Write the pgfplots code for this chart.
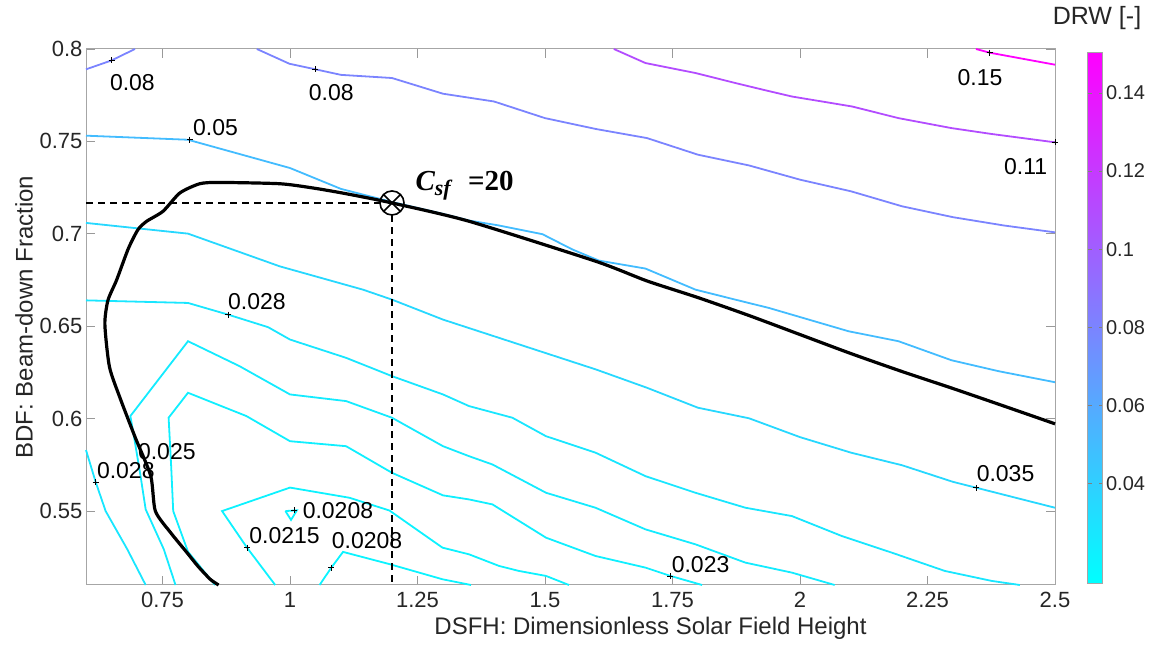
\documentclass[border=0pt]{standalone}
\usepackage{pgfplots}
\pgfplotsset{compat=1.18}
\usepackage{fontspec}
\setmainfont{Liberation Sans}
\newfontfamily\serifbf{Liberation Serif}
\usetikzlibrary{plotmarks}

\definecolor{cA}{rgb}{0.046,0.954,1}   % 0.0208
\definecolor{cB}{rgb}{0.051,0.949,1}   % 0.0215
\definecolor{cC}{rgb}{0.063,0.938,1}   % 0.023
\definecolor{cD}{rgb}{0.077,0.923,1}   % 0.025
\definecolor{cE}{rgb}{0.099,0.901,1}   % 0.028
\definecolor{cF}{rgb}{0.151,0.849,1}   % 0.035
\definecolor{cG}{rgb}{0.261,0.739,1}   % 0.05
\definecolor{cH}{rgb}{0.482,0.518,1}   % 0.08
\definecolor{cI}{rgb}{0.702,0.298,1}   % 0.11
\definecolor{cJ}{rgb}{0.996,0.004,1}   % 0.15

\begin{document}
\begin{tikzpicture}
\path[use as bounding box] (0,0) rectangle (1150pt,652pt);
\begin{axis}[
  at={(86pt,67pt)}, anchor=south west,
  scale only axis, width=969pt, height=536pt,
  xmin=0.6, xmax=2.5, ymin=0.51, ymax=0.8,
  xtick={0.75,1,1.25,1.5,1.75,2,2.25,2.5},
  xticklabels={0.75,1,1.25,1.5,1.75,2,2.25,2.5},
  ytick={0.55,0.6,0.65,0.7,0.75,0.8},
  yticklabels={0.55,0.6,0.65,0.7,0.75,0.8},
  tick align=inside, major tick length=9pt,
  tick style={black!40, line width=0.8pt},
  axis line style={black!35, line width=1pt},
  ticklabel style={font=\fontsize{22}{26}\selectfont, text=black!85},
  xticklabel style={yshift=-4pt},
  xlabel={DSFH: Dimensionless Solar Field Height},
  ylabel={BDF: Beam-down Fraction},
  label style={font=\fontsize{24}{28}\selectfont, text=black!85},
  xlabel style={yshift=-2pt, xshift=80pt},
  clip=false,
  colormap={cool}{rgb=(0,1,1) rgb=(1,0,1)},
  point meta min=0.0145, point meta max=0.1505,
  colorbar,
  colorbar style={
    at={(parent axis.north east)}, anchor=north west, xshift=24pt, yshift=-3pt,
    scale only axis, width=15pt, height=531pt,
    ytick={0.04,0.06,0.08,0.1,0.12,0.14},
    yticklabels={0.04,0.06,0.08,0.1,0.12,0.14},
    yticklabel style={font=\fontsize{20}{24}\selectfont, text=black!85},
    axis line style={black!35, line width=0.8pt},
    tick style={black!50}, major tick length=4pt,
  },
]
% 0.15
\addplot[cJ, line width=1.8pt] coordinates {(2.345,0.8)(2.372,0.798)(2.5,0.7915)};
% 0.11
\addplot[cI, line width=1.8pt] coordinates {(1.635,0.8)(1.697,0.7924)(1.795,0.787)(1.873,0.7816)(1.93,0.7778)(1.984,0.7743)(2.102,0.7689)(2.193,0.7626)(2.297,0.7572)(2.376,0.754)(2.5,0.7495)};
% 0.08 (corner and main)
\addplot[cH, line width=1.8pt] coordinates {(0.6,0.789)(0.65,0.7938)(0.696,0.8)};
\addplot[cH, line width=1.8pt] coordinates {(0.935,0.8)(0.999,0.792)(1.05,0.789)(1.1,0.786)(1.2,0.7843)(1.3,0.7758)(1.4,0.7716)(1.5,0.7626)(1.6,0.7567)(1.7,0.7518)(1.8,0.7428)(1.9,0.737)(2.0,0.7293)(2.1,0.723)(2.2,0.7149)(2.3,0.709)(2.4,0.7045)(2.5,0.7008)};
% 0.05
\addplot[cG, line width=1.8pt] coordinates {(0.6,0.7531)(0.8,0.7509)(1.0,0.7356)(1.1,0.7243)(1.2,0.7172)(1.3,0.7108)(1.351,0.7072)(1.41,0.7045)(1.495,0.6998)(1.554,0.6915)(1.606,0.6855)(1.697,0.6812)(1.795,0.6698)(1.873,0.6644)(1.939,0.6599)(2.017,0.6536)(2.095,0.6473)(2.193,0.6419)(2.297,0.6316)(2.389,0.6257)(2.5,0.6197)};
% 0.035
\addplot[cF, line width=1.8pt] coordinates {(0.6,0.7059)(0.8,0.7001)(0.98,0.6824)(1.143,0.6698)(1.2,0.6644)(1.3,0.6536)(1.4,0.6446)(1.5,0.6356)(1.6,0.6266)(1.7,0.6167)(1.8,0.6059)(1.9,0.6002)(2.0,0.59)(2.1,0.5816)(2.2,0.5748)(2.3,0.5658)(2.346,0.5626)(2.5,0.5518)};
% 0.028 upper
\addplot[cE, line width=1.8pt] coordinates {(0.6,0.664)(0.8,0.6626)(0.8785,0.6563)(0.957,0.6495)(1.0,0.6428)(1.11,0.6329)(1.2,0.623)(1.3,0.6131)(1.351,0.6068)(1.436,0.6005)(1.502,0.5905)(1.599,0.5816)(1.697,0.5689)(1.795,0.5599)(1.893,0.5518)(1.984,0.5473)(2.082,0.5365)(2.18,0.5275)(2.284,0.5176)(2.376,0.5122)(2.431,0.51)};
% 0.028 lower left
\addplot[cE, line width=1.8pt] coordinates {(0.6,0.583)(0.619,0.5657)(0.6385,0.55)(0.681,0.5293)(0.717,0.51)};
% 0.025
\addplot[cD, line width=1.8pt] coordinates {(0.7755,0.51)(0.7526,0.5293)(0.717,0.5509)(0.707,0.5689)(0.694,0.5905)(0.687,0.6014)(0.8,0.6419)(0.901,0.6284)(1.0,0.6131)(1.11,0.6095)(1.2,0.6005)(1.3,0.5851)(1.351,0.5797)(1.397,0.5752)(1.502,0.5599)(1.599,0.5518)(1.697,0.5401)(1.795,0.532)(1.893,0.5221)(1.984,0.5167)(2.068,0.51)};
% 0.023
\addplot[cC, line width=1.8pt] coordinates {(0.853,0.51)(0.80,0.528)(0.771,0.55)(0.767,0.5743)(0.762,0.6005)(0.8,0.614)(0.9145,0.6014)(1.0,0.5878)(1.11,0.5851)(1.2,0.5707)(1.3,0.5585)(1.351,0.5563)(1.397,0.5536)(1.502,0.5356)(1.599,0.5257)(1.697,0.5194)(1.746,0.5149)(1.808,0.51)};
% 0.0215
\addplot[cB, line width=1.8pt] coordinates {(0.971,0.51)(0.9157,0.5302)(0.8668,0.55)(1.0,0.5627)(1.1166,0.5572)(1.195,0.5503)(1.299,0.5302)(1.351,0.5266)(1.41,0.5203)(1.449,0.5176)(1.502,0.5149)(1.547,0.51)};
% 0.0208
\addplot[cA, line width=1.8pt] coordinates {(0.991,0.55)(1.0135,0.5504)(1.002,0.5452)(0.991,0.55)};
\addplot[cA, line width=1.8pt] coordinates {(1.058,0.51)(1.081,0.5194)(1.104,0.5279)(1.195,0.5213)(1.299,0.5131)(1.355,0.51)};
% label markers
\addplot[only marks, mark=+, mark size=3pt, black, mark options={line width=0.6pt}] coordinates {(0.65,0.7938)(1.0495,0.7891)(0.8035,0.7509)(2.372,0.798)(2.5,0.7495)(0.8785,0.6563)(0.619,0.5657)(1.008,0.5504)(0.9157,0.5302)(1.081,0.5194)(1.746,0.5149)(2.346,0.5626)};
% Csf = 20 curve
\addplot[black, line width=3.2pt, smooth, tension=0.4] coordinates {(0.86,0.51)(0.844,0.513)(0.82,0.52)(0.798,0.5275)(0.766,0.5383)(0.736,0.55)(0.727,0.569)(0.697,0.5895)(0.667,0.611)(0.646,0.628)(0.637,0.651)(0.643,0.664)(0.66,0.675)(0.683,0.692)(0.702,0.7023)(0.719,0.7068)(0.751,0.7122)(0.784,0.7221)(0.823,0.7271)(0.862,0.7278)(0.98,0.7271)(1.045,0.7248)(1.11,0.7217)(1.2,0.7167)(1.351,0.7068)(1.6,0.6851)(1.7,0.6745)(1.8,0.6655)(1.9,0.6558)(2.0,0.6455)(2.1,0.6352)(2.2,0.6255)(2.3,0.6163)(2.4,0.6068)(2.5,0.5972)};
% dashed guides
\addplot[black, line width=1.6pt, dash pattern=on 7pt off 5pt] coordinates {(0.6,0.7167)(1.176,0.7167)};
\addplot[black, line width=1.6pt, dash pattern=on 7pt off 5pt] coordinates {(1.2,0.7100)(1.2,0.51)};
\addplot[only marks, black, mark=otimes, mark size=12pt, mark options={line width=1.6pt, fill=white}] coordinates {(1.2,0.7167)};
% labels
\begin{scope}[every node/.style={font=\fontsize{23}{27}\selectfont, text=black, inner sep=0pt}]
\node at (axis cs:0.691,0.7816) {0.08};
\node at (axis cs:1.081,0.7766) {0.08};
\node at (axis cs:0.854,0.7574) {0.05};
\node at (axis cs:2.353,0.7847) {0.15};
\node at (axis cs:2.4425,0.7365) {0.11};
\node at (axis cs:0.935,0.6631) {0.028};
\node at (axis cs:0.678,0.572) {0.028};
\node at (axis cs:0.7585,0.5823) {0.025};
\node at (axis cs:1.094,0.5505) {0.0208};
\node at (axis cs:0.9894,0.5369) {0.0215};
\node at (axis cs:1.151,0.5342) {0.0208};
\node at (axis cs:1.805,0.5212) {0.023};
\node at (axis cs:2.403,0.5704) {0.035};
\end{scope}
\node[anchor=west, inner sep=0pt] at (axis cs:1.2458,0.7262) {\serifbf\fontsize{29}{32}\selectfont\bfseries\itshape C\raisebox{-0.4ex}{\fontsize{22}{22}\selectfont sf}\upshape\hspace{0.6em}=20};
\end{axis}
\node[font=\fontsize{25}{29}\selectfont, text=black!85] at (1097pt,634pt) {DRW [-]};
\end{tikzpicture}
\end{document}
